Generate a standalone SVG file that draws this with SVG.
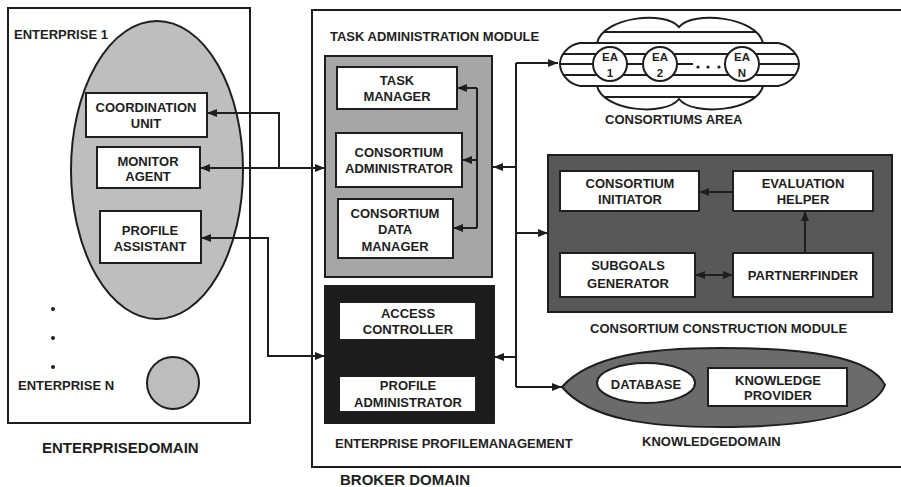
<svg xmlns="http://www.w3.org/2000/svg" width="901" height="487" viewBox="0 0 901 487">
<style>
text{font-family:"Liberation Sans",Arial,sans-serif;font-weight:bold;font-size:13px;fill:#1e1e1e}
.m{text-anchor:middle}
.big{font-size:15px}
.ea{font-size:11.5px;text-anchor:middle}
.box{fill:#fff;stroke:#1e1e1e;stroke-width:2}
.ln{fill:none;stroke:#1e1e1e;stroke-width:2}
.c{fill:none;stroke:#1e1e1e;stroke-width:1.8}
</style>
<defs>
<marker id="ah" viewBox="0 0 10 8" refX="10" refY="4" markerWidth="10" markerHeight="8" markerUnits="userSpaceOnUse" orient="auto-start-reverse">
<path d="M0,0 L10,4 L0,8 z" fill="#1e1e1e"/>
</marker>
<clipPath id="cloudclip">
<path d="M580,43 H597 C603,17 665,10 679,27 C693,10 757,17 763,43 H778 C790,45 799,55 799,64 C799,73 790,84 778,86 H763 C757,111 693,117 679,99 C665,117 603,111 597,86 H580 C568,84 560,73 560,64 C560,55 568,45 580,43 Z"/>
</clipPath>
</defs>
<rect width="901" height="487" fill="#fff"/>

<g id="enterprise-domain">
<rect x="8" y="8" width="242" height="415" class="ln"/>
<text x="14" y="39">ENTERPRISE 1</text>
<ellipse cx="157" cy="170" rx="86" ry="149" fill="#bebebe" stroke="#1e1e1e" stroke-width="2"/>
<circle cx="53" cy="309" r="2" fill="#1e1e1e"/>
<circle cx="53" cy="338" r="2" fill="#1e1e1e"/>
<circle cx="53" cy="367" r="2" fill="#1e1e1e"/>
<text x="18" y="390">ENTERPRISE N</text>
<circle cx="173" cy="383" r="26" fill="#bdbdbd" stroke="#1e1e1e" stroke-width="2"/>
<text x="42" y="453" class="big">ENTERPRISEDOMAIN</text>
</g>
<g id="coordination-unit">
<rect x="86" y="93" width="121" height="44" class="box"/>
<text x="146" y="112" class="m">COORDINATION</text>
<text x="146" y="128" class="m">UNIT</text>
</g>
<g id="monitor-agent">
<rect x="97" y="147" width="103" height="41" class="box"/>
<text x="148" y="166" class="m">MONITOR</text>
<text x="148" y="181" class="m">AGENT</text>
</g>
<g id="profile-assistant">
<rect x="100" y="211" width="101" height="52" class="box"/>
<text x="150" y="235" class="m">PROFILE</text>
<text x="150" y="251" class="m">ASSISTANT</text>
</g>

<g id="broker-domain">
<path d="M905,10 H312 V467 H905" class="ln"/>
<text x="340" y="485" class="big">BROKER DOMAIN</text>
</g>

<g id="task-administration-module">
<text x="330" y="41">TASK ADMINISTRATION MODULE</text>
<rect x="325" y="56" width="167" height="221" fill="#a6a6a6" stroke="#1e1e1e" stroke-width="2"/>
</g>
<g id="task-manager">
<rect x="337" y="67" width="120" height="42" class="box"/>
<text x="397" y="85" class="m">TASK</text>
<text x="397" y="101" class="m">MANAGER</text>
</g>
<g id="consortium-administrator">
<rect x="336" y="133" width="126" height="54" class="box"/>
<text x="399" y="157" class="m">CONSORTIUM</text>
<text x="399" y="173" class="m">ADMINISTRATOR</text>
</g>
<g id="consortium-data-manager">
<rect x="338" y="199" width="115" height="59" class="box"/>
<text x="395" y="218" class="m">CONSORTIUM</text>
<text x="395" y="234" class="m">DATA</text>
<text x="395" y="251" class="m">MANAGER</text>
</g>

<g id="consortiums-area">
<path d="M580,43 H597 C603,17 665,10 679,27 C693,10 757,17 763,43 H778 C790,45 799,55 799,64 C799,73 790,84 778,86 H763 C757,111 693,117 679,99 C665,117 603,111 597,86 H580 C568,84 560,73 560,64 C560,55 568,45 580,43 Z" fill="#fff" stroke="#1e1e1e" stroke-width="2"/>
<g clip-path="url(#cloudclip)" class="c">
<path d="M550,32 H810 M550,43 H810 M550,54 H810 M550,64 H810 M550,75 H810 M550,86 H810 M550,97 H810"/>
</g>
<circle cx="610" cy="64" r="17" class="box"/>
<circle cx="660" cy="64" r="17" class="box"/>
<circle cx="742" cy="64" r="17" class="box"/>
<rect x="693" y="58" width="31" height="14" fill="#fff"/>
<circle cx="698" cy="67" r="1.6" fill="#1e1e1e"/>
<circle cx="708" cy="67" r="1.6" fill="#1e1e1e"/>
<circle cx="719" cy="67" r="1.6" fill="#1e1e1e"/>
<text x="610" y="61" class="ea">EA</text>
<text x="610" y="77" class="ea">1</text>
<text x="660" y="61" class="ea">EA</text>
<text x="660" y="77" class="ea">2</text>
<text x="742" y="61" class="ea">EA</text>
<text x="742" y="77" class="ea">N</text>
<text x="605" y="124">CONSORTIUMS AREA</text>
</g>

<g id="consortium-construction-module">
<rect x="548" y="155" width="344" height="157" fill="#585858" stroke="#1e1e1e" stroke-width="2"/>
<text x="590" y="333">CONSORTIUM CONSTRUCTION MODULE</text>
</g>
<g id="consortium-initiator">
<rect x="560" y="171" width="139" height="40" class="box"/>
<text x="630" y="188" class="m">CONSORTIUM</text>
<text x="630" y="204" class="m">INITIATOR</text>
</g>
<g id="evaluation-helper">
<rect x="733" y="171" width="140" height="40" class="box"/>
<text x="803" y="188" class="m">EVALUATION</text>
<text x="803" y="204" class="m">HELPER</text>
</g>
<g id="subgoals-generator">
<rect x="560" y="253" width="135" height="44" class="box"/>
<text x="628" y="270" class="m">SUBGOALS</text>
<text x="628" y="288" class="m">GENERATOR</text>
</g>
<g id="partnerfinder">
<rect x="733" y="253" width="140" height="44" class="box"/>
<text x="803" y="280" class="m">PARTNERFINDER</text>
</g>

<g id="enterprise-profile-management">
<rect x="325" y="286" width="169" height="137" fill="#1c1c1c" stroke="#1e1e1e" stroke-width="2"/>
<text x="335" y="448">ENTERPRISE PROFILEMANAGEMENT</text>
</g>
<g id="access-controller">
<rect x="339" y="302" width="137" height="38" class="box"/>
<text x="408" y="318" class="m">ACCESS</text>
<text x="408" y="334" class="m">CONTROLLER</text>
</g>
<g id="profile-administrator">
<rect x="339" y="376" width="137" height="36" class="box"/>
<text x="408" y="390" class="m">PROFILE</text>
<text x="408" y="407" class="m">ADMINISTRATOR</text>
</g>

<g id="knowledge-domain">
<path d="M562,387 C590,355 650,348 720,348 C800,348 870,355 885,385 C872,418 800,427 720,427 C650,427 590,420 562,387 Z" fill="#6b6b6b" stroke="#1e1e1e" stroke-width="2"/>
<text x="642" y="446">KNOWLEDGEDOMAIN</text>
</g>
<g id="database">
<ellipse cx="646" cy="383" rx="49" ry="20" class="box"/>
<text x="646" y="389" class="m">DATABASE</text>
</g>
<g id="knowledge-provider">
<rect x="708" y="368" width="139" height="38" class="box"/>
<text x="778" y="385" class="m">KNOWLEDGE</text>
<text x="778" y="400" class="m">PROVIDER</text>
</g>

<g id="connectors" class="ln">
<path d="M279,168 V113 H207" marker-end="url(#ah)"/>
<path d="M200,168 H325" marker-start="url(#ah)" marker-end="url(#ah)"/>
<path d="M201,238 H268 V356 H325" marker-start="url(#ah)" marker-end="url(#ah)"/>
<path d="M516,63 V387"/>
<path d="M516,63 H558" marker-end="url(#ah)"/>
<path d="M516,167 H493" marker-end="url(#ah)"/>
<path d="M516,233 H548" marker-end="url(#ah)"/>
<path d="M516,357 H494" marker-end="url(#ah)"/>
<path d="M516,387 H562" marker-end="url(#ah)"/>
<path d="M477,88 V228"/>
<path d="M477,88 H457" marker-end="url(#ah)"/>
<path d="M477,160 H462" marker-end="url(#ah)"/>
<path d="M477,228 H453" marker-end="url(#ah)"/>
<path d="M733,192 H699" marker-end="url(#ah)"/>
<path d="M805,253 V211" marker-end="url(#ah)"/>
<path d="M695,275 H733" marker-start="url(#ah)" marker-end="url(#ah)"/>
</g>
</svg>
